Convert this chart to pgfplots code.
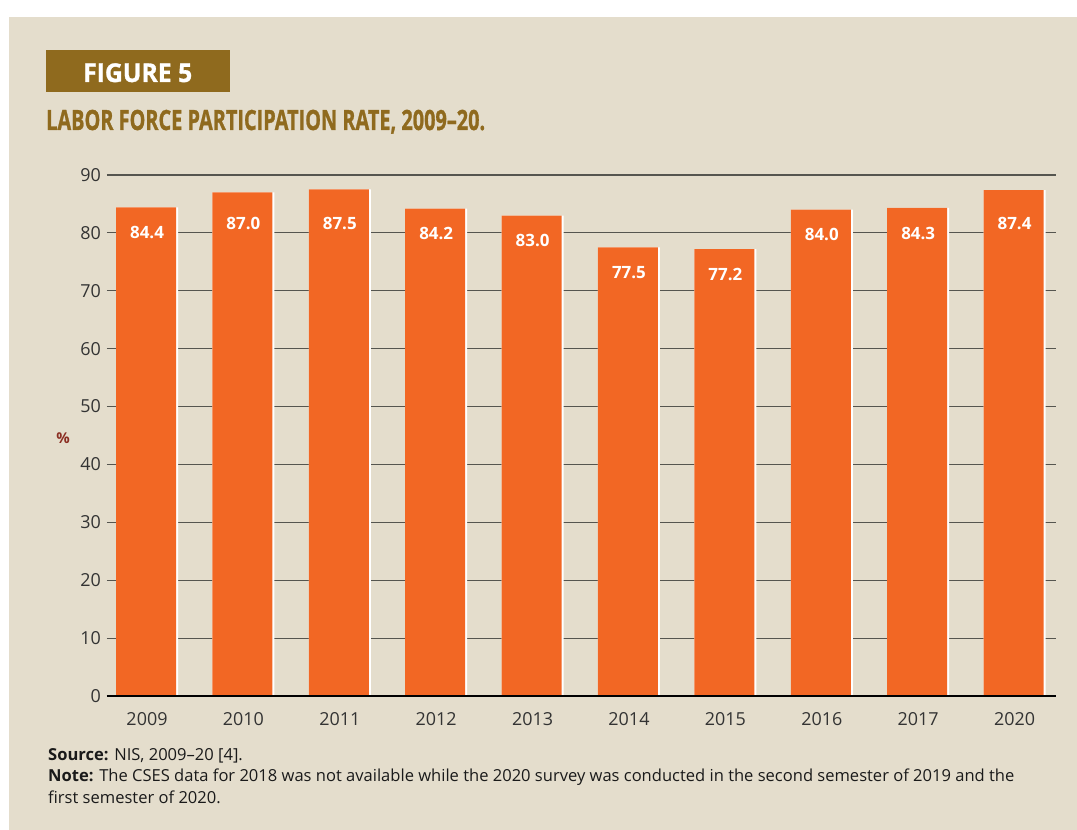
\documentclass[border=0pt]{standalone}
\usepackage{fontspec}
\setmainfont{Open Sans}
\newfontfamily\heavyfont[FakeBold=1.2]{Open Sans}
\usepackage{graphicx}
\usepackage{pgfplots}
\usepackage{pgfplotstable}
\pgfplotsset{compat=1.18}
\definecolor{beige}{HTML}{E4DDCC}
\definecolor{barorange}{HTML}{F26724}
\definecolor{titlebrown}{HTML}{8F6A1E}
\definecolor{pct}{HTML}{8B2E22}
\definecolor{gridc}{HTML}{55554F}
\definecolor{tickc}{HTML}{333333}
\definecolor{notec}{HTML}{1A1A1A}

\pgfplotstableread{
x y ly
0 84.4 80.08
1 87.0 81.7
2 87.5 81.7
3 84.2 79.88
4 83.0 78.68
5 77.5 73.18
6 77.2 72.88
7 84.0 79.68
8 84.3 79.98
9 87.4 81.7
}\data

\begin{document}
\begin{tikzpicture}[x=1bp,y=1bp]
\fill[white] (0,0) rectangle (1077,830);
\fill[beige] (9,0) rectangle (1077,813);
% figure box
\fill[titlebrown] (46,738) rectangle (230,780);
\node[anchor=base west, inner sep=0pt, text=white] at (83,748)
  {\resizebox{109bp}{\height}{\fontsize{26}{26}\selectfont\heavyfont\bfseries FIGURE 5}};
\node[anchor=base west, inner sep=0pt, text=titlebrown] at (46,700)
  {\resizebox{439bp}{\height}{\fontsize{28}{28}\selectfont\heavyfont\bfseries LABOR FORCE PARTICIPATION RATE, 2009–20.}};
\node[inner sep=0pt, text=pct] at (63,392) {\fontsize{15}{15}\selectfont\bfseries \%};

\begin{axis}[at={(147bp,134bp)}, anchor=origin, scale only axis,
  width=949bp, height=521bp,
  xmin=-0.415, xmax=9.43, ymin=0, ymax=90,
  ytick={0,10,...,90}, xtick={0,...,9},
  xticklabels={2009,2010,2011,2012,2013,2014,2015,2016,2017,2020},
  axis lines*=left, axis line style={draw=none},
  major tick length=0pt,
  ymajorgrids, grid style={gridc, line width=1.1bp},
  tick label style={font=\fontsize{18}{18}\selectfont, text=tickc},
  /pgf/number format/assume math mode=true,
  yticklabel style={anchor=east, inner sep=0pt, xshift=-6bp},
  xticklabel style={anchor=north, inner sep=0pt, yshift=-16bp},
  clip=false]
\addplot[ybar, bar width=62bp, bar shift=0pt, fill=white, draw=none] table[x=x,y=y]{\data};
\addplot[ybar, bar width=60bp, bar shift=-1bp, fill=barorange, draw=none] table[x=x,y=y]{\data};
\addplot[black, line width=1.5bp] coordinates {(-0.415,0) (9.43,0)};
\addplot[draw=none, mark=none, nodes near coords, point meta=explicit,
  nodes near coords style={anchor=center, inner sep=0pt, text=white,
    font=\bfseries\fontsize{17}{17}\selectfont,
    /pgf/number format/.cd, fixed, fixed zerofill, precision=1, assume math mode=true}]
  table[x=x, y=ly, meta=y]{\data};
\end{axis}

\node[anchor=base west, inner sep=0pt, text=notec] at (48,69)
  {\fontsize{16.6}{16.6}\selectfont\textbf{Source:} NIS, 2009–20 [4].};
\node[anchor=base west, inner sep=0pt, text=notec] at (48,48)
  {\fontsize{16.6}{16.6}\selectfont\textbf{Note:} The CSES data for 2018 was not available while the 2020 survey was conducted in the second semester of 2019 and the};
\node[anchor=base west, inner sep=0pt, text=notec] at (48,26)
  {\fontsize{16.6}{16.6}\selectfont first semester of 2020.};
\pgfresetboundingbox
\path (0,0) rectangle (1077,830);
\end{tikzpicture}
\end{document}
